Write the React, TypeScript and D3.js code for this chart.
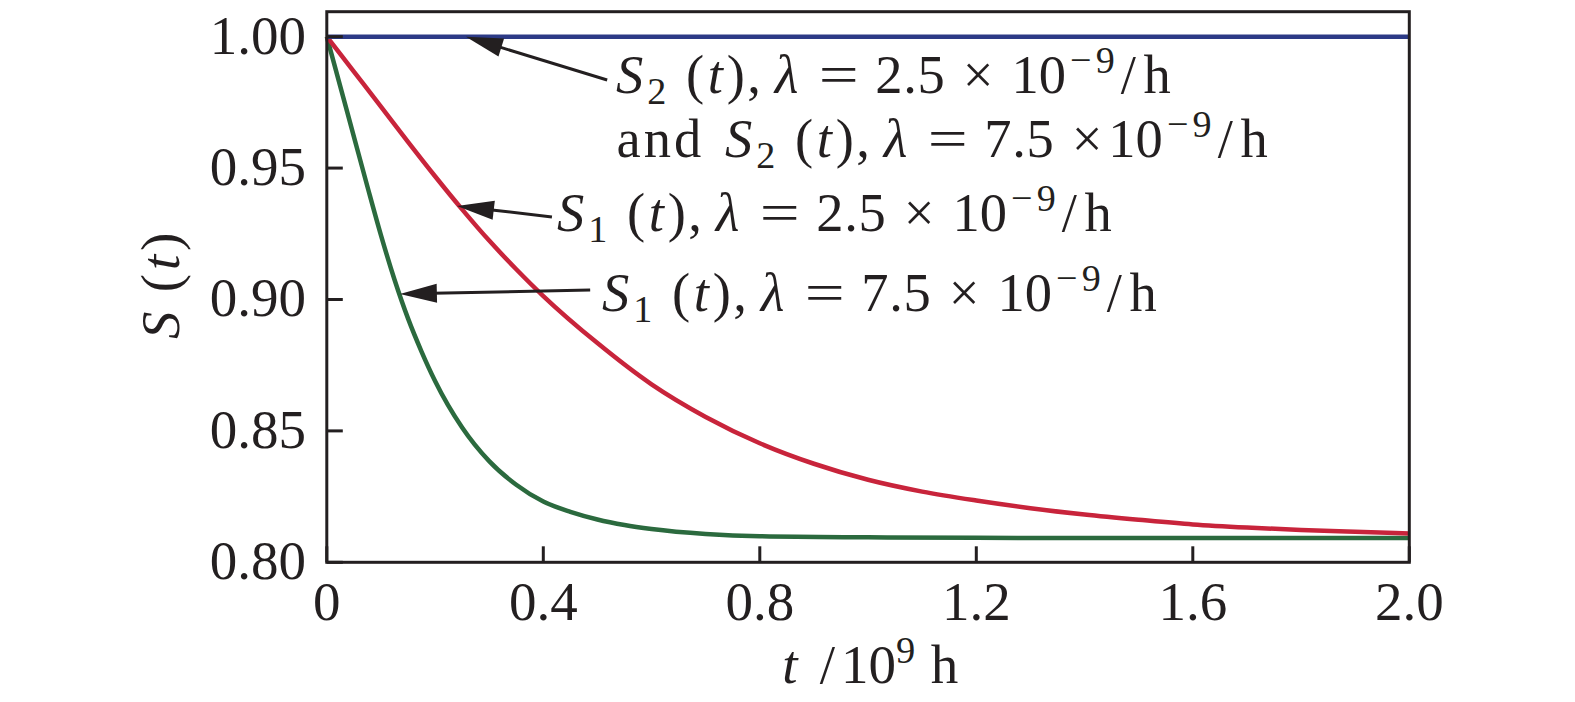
import React from "react";
import * as d3 from "d3";

// ---- data ----
const s1LowT = [0, 0.05, 0.1, 0.15, 0.2, 0.25, 0.3, 0.35, 0.4, 0.5, 0.6, 0.7, 0.8, 0.9, 1.0, 1.1, 1.2, 1.3, 1.4, 1.5, 1.6, 1.7, 1.8, 1.9, 2.0];
const s1LowS = [1.0, 0.9867, 0.9734, 0.96, 0.9469, 0.9343, 0.9224, 0.9115, 0.9013, 0.8834, 0.8677, 0.8553, 0.8453, 0.8375, 0.8314, 0.8269, 0.8235, 0.8206, 0.8182, 0.8162, 0.8144, 0.8132, 0.8123, 0.8116, 0.811];
const s1HighT = [0, 0.025, 0.05, 0.075, 0.1, 0.125, 0.15, 0.175, 0.2, 0.25, 0.3, 0.35, 0.4, 0.45, 0.5, 0.55, 0.6, 0.7, 0.8, 1.0, 1.2, 1.5, 2.0];
const s1HighS = [1.0, 0.981, 0.962, 0.943, 0.9245, 0.9076, 0.8928, 0.8802, 0.869, 0.8513, 0.8385, 0.8295, 0.8231, 0.8192, 0.8163, 0.8142, 0.8127, 0.8108, 0.8099, 0.8095, 0.8093, 0.8092, 0.8092];
const s2T = [0, 2.0];
const s2S = [1.0, 1.0];

const xTicks = [0, 0.4, 0.8, 1.2, 1.6, 2.0];
const xTickLabels = ["0", "0.4", "0.8", "1.2", "1.6", "2.0"];
const yTicks = [0.8, 0.85, 0.9, 0.95, 1.0];
const yTickLabels = ["0.80", "0.85", "0.90", "0.95", "1.00"];

// annotation arrows: [tipT, tipS, tailT, tailS]
const arrowS2 = [0.257, 1.0, 0.518, 0.9835];
const arrowS1Low = [0.2405, 0.9356, 0.416, 0.9314];
const arrowS1High = [0.135, 0.9021, 0.4866, 0.9036];

const FONT = "'Liberation Serif', 'Times New Roman', serif";
const INK = "#231f20";

// glyph slot: text, slot width (em), italic, size scale, vertical shift (em), x-stretch
type Gl = { t?: string; w: number; it?: boolean; sc?: number; dy?: number; sx?: number };

const R = (t: string, w: number): Gl => ({ t, w });
const I = (t: string, w: number): Gl => ({ t, w, it: true });
const SP = (w: number): Gl => ({ w });
const SUB = (t: string): Gl => ({ t, w: 0.35, sc: 0.7, dy: 0.2 });
const SUP = (t: string, w: number): Gl => ({ t, w, sc: 0.7, dy: -0.37 });
const num = (s: string): Gl[] => s.split("").map((c) => R(c, c === "." ? 0.278 : 0.5));

function eqGlyphs(sub: string, val: string, extra: number, tight: boolean): Gl[] {
  return [
    I("S", 0.645),
    SUB(sub),
    SP(0.333),
    R("(", 0.389),
    I("t", 0.361),
    R(")", 0.389),
    R(",", 0.278),
    SP(0.167 + extra),
    I("λ", 0.583),
    SP(0.278 + extra),
    { t: "=", w: 0.778, sx: 1.3 },
    SP(0.278 + extra),
    ...num(val),
    SP(0.222 + extra),
    R("×", 0.778),
    SP(tight ? 0 : 0.222 + extra),
    ...num("10"),
    SUP("−", 0.545),
    SUP("9", 0.35),
    R("/", 0.5),
    R("h", 0.556),
  ];
}

function Glyphs({ x, y, F, gl, center = false }: { x: number; y: number; F: number; gl: Gl[]; center?: boolean }) {
  const total = gl.reduce((a, g) => a + g.w, 0) * F;
  let cx = center ? x - total / 2 : x;
  const out: React.ReactNode[] = [];
  gl.forEach((g, i) => {
    const w = g.w * F;
    if (g.t) {
      const gx = cx + w / 2;
      const gy = y + (g.dy || 0) * F;
      out.push(
        <text
          key={i}
          transform={`translate(${gx},${gy}) scale(${g.sx || 1},1)`}
          textAnchor="middle"
          fontFamily={FONT}
          fontSize={F * (g.sc || 1)}
          fontStyle={g.it ? "italic" : "normal"}
          fill={INK}
        >
          {g.t}
        </text>
      );
    }
    cx += w;
  });
  return <g>{out}</g>;
}

export default function App() {
  const W = 1575, H = 702;
  const x = d3.scaleLinear().domain([0, 2]).range([326.8, 1409.3]);
  const y = d3.scaleLinear().domain([0.8, 1.0095]).range([562.3, 11.7]);

  const line = d3.line<[number, number]>().x((d) => x(d[0])).y((d) => y(d[1])).curve(d3.curveMonotoneX);
  const mk = (ts: number[], vs: number[]) => line(ts.map((t, i) => [t, vs[i]] as [number, number])) || "";

  const arrow = (a: number[]) => {
    const x1 = x(a[0]), y1 = y(a[1]), x2 = x(a[2]), y2 = y(a[3]);
    const dx = x2 - x1, dy = y2 - y1;
    const len = Math.hypot(dx, dy);
    const ux = dx / len, uy = dy / len;
    const hl = 37, hw = 9.5;
    const bx = x1 + ux * hl, by = y1 + uy * hl;
    const pts = [
      [x1, y1],
      [bx - uy * hw, by + ux * hw],
      [bx + uy * hw, by - ux * hw],
    ];
    return (
      <g>
        <line x1={bx - ux * 4} y1={by - uy * 4} x2={x2} y2={y2} stroke={INK} strokeWidth={3} />
        <polygon points={pts.map((p) => p.join(",")).join(" ")} fill={INK} />
      </g>
    );
  };

  const [x0, x1] = x.range();
  const [yb, yt] = y.range();
  const F = 54.5;

  return (
    <svg width={W} height={H} style={{ position: "absolute", left: 0, top: 0, display: "block", background: "#fff" }}>
      <rect x={0} y={0} width={W} height={H} fill="#fff" />
      {/* curves */}
      <path d={mk(s1HighT, s1HighS)} fill="none" stroke="#2b6a3e" strokeWidth={4.5} />
      <path d={mk(s1LowT, s1LowS)} fill="none" stroke="#c8243b" strokeWidth={4.5} />
      <path d={mk(s2T, s2S)} fill="none" stroke="#2c3a86" strokeWidth={4.5} />

      {/* frame */}
      <rect x={x0} y={yt} width={x1 - x0} height={yb - yt} fill="none" stroke={INK} strokeWidth={3} />

      {/* ticks */}
      {yTicks.map((v, i) => (
        <g key={"y" + i}>
          <line x1={x0} x2={x0 + 16} y1={y(v)} y2={y(v)} stroke={INK} strokeWidth={3} />
          <text x={306} y={y(v) + 17} textAnchor="end" fontFamily={FONT} fontSize={55} fill={INK}>
            {yTickLabels[i]}
          </text>
        </g>
      ))}
      {xTicks.map((t, i) => (
        <g key={"x" + i}>
          <line x1={x(t)} x2={x(t)} y1={yb} y2={yb - 16} stroke={INK} strokeWidth={3} />
          <text x={x(t)} y={620} textAnchor="middle" fontFamily={FONT} fontSize={55} fill={INK}>
            {xTickLabels[i]}
          </text>
        </g>
      ))}

      {/* axis labels */}
      <g transform="translate(179,287) rotate(-90)">
        <Glyphs x={0} y={0} F={55} center gl={[I("S", 0.645), SP(0.25), R("(", 0.389), I("t", 0.361), R(")", 0.389)]} />
      </g>
      <Glyphs
        x={780}
        y={683}
        F={55}
        gl={[I("t", 0.361), SP(0.25), R("/", 0.5), ...num("10"), SUP("9", 0.35), SP(0.25), R("h", 0.556)]}
      />

      {/* annotations */}
      {arrow(arrowS2)}
      {arrow(arrowS1Low)}
      {arrow(arrowS1High)}
      <Glyphs x={612} y={93} F={F} gl={eqGlyphs("2", "2.5", 0, false)} />
      <Glyphs x={615} y={157} F={F} gl={[R("a", 0.5), R("n", 0.556), R("d", 0.556), SP(0.333), ...eqGlyphs("2", "7.5", 0, true)]} />
      <Glyphs x={553} y={231} F={F} gl={eqGlyphs("1", "2.5", 0, false)} />
      <Glyphs x={598} y={311} F={F} gl={eqGlyphs("1", "7.5", 0, false)} />
    </svg>
  );
}
